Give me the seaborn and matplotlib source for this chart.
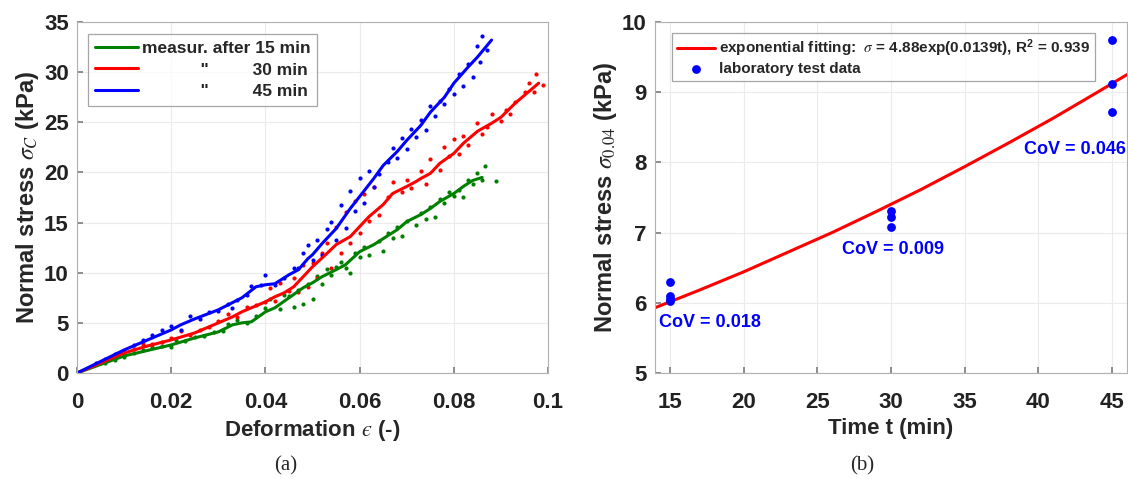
import matplotlib

matplotlib.use("Agg")
import matplotlib.pyplot as plt  # noqa: E402
import seaborn as sns  # noqa: E402

# --------------------------------------------------------------------------- #
# data                                                 #
# --------------------------------------------------------------------------- #
# (a) mean curves (solid lines)
eps_15 = [0, 0.01, 0.02, 0.025, 0.03, 0.033, 0.035, 0.037, 0.04, 0.042, 0.045, 0.048,
          0.05, 0.052, 0.055, 0.057, 0.06, 0.063, 0.065, 0.068, 0.07, 0.073, 0.075,
          0.077, 0.08, 0.082, 0.084, 0.086]
sig_15 = [0, 1.7, 2.8, 3.5, 4.1, 4.8, 5.0, 5.1, 6.1, 6.5, 7.5, 8.5, 9.0, 9.6, 10.3, 10.8,
          12.1, 12.8, 13.4, 14.3, 15.1, 15.8, 16.4, 17.1, 17.9, 18.6, 19.2, 19.5]
eps_30 = [0, 0.01, 0.015, 0.02, 0.025, 0.03, 0.033, 0.035, 0.04, 0.042, 0.044, 0.046,
          0.048, 0.05, 0.053, 0.055, 0.058, 0.06, 0.062, 0.065, 0.067, 0.07, 0.072,
          0.073, 0.075, 0.077, 0.08, 0.082, 0.085, 0.088, 0.09, 0.093, 0.095, 0.098]
sig_30 = [0, 2.0, 2.7, 3.3, 4.0, 5.0, 5.6, 6.1, 7.1, 7.6, 8.0, 8.6, 9.6, 10.6, 11.9, 12.8,
          13.6, 14.6, 15.6, 16.8, 17.9, 18.6, 19.1, 19.4, 19.9, 20.9, 21.9, 22.9, 24.1,
          24.9, 25.5, 26.9, 27.7, 28.9]
eps_45 = [0, 0.01, 0.02, 0.022, 0.025, 0.03, 0.035, 0.038, 0.04, 0.042, 0.045, 0.047,
          0.049, 0.05, 0.052, 0.055, 0.058, 0.06, 0.063, 0.065, 0.068, 0.07, 0.073,
          0.075, 0.078, 0.08, 0.083, 0.085, 0.088]
sig_45 = [0, 2.3, 4.3, 4.8, 5.4, 6.3, 7.5, 8.6, 8.8, 8.9, 9.8, 10.3, 11.4, 11.8, 12.9,
          14.4, 16.4, 17.6, 19.4, 20.7, 22.1, 23.2, 24.7, 26.0, 27.5, 28.9, 30.5, 31.5, 33.2]

# (a) individual measurements (dots)
dot_eps_15 = [0.006, 0.008, 0.010, 0.012, 0.014, 0.016, 0.018, 0.020, 0.021, 0.023, 0.025,
              0.027, 0.029, 0.031, 0.032, 0.034, 0.036, 0.038, 0.040, 0.041, 0.043, 0.044,
              0.045, 0.046, 0.047, 0.048, 0.049, 0.050, 0.051, 0.052, 0.053, 0.054, 0.055,
              0.056, 0.057, 0.058, 0.059, 0.060, 0.061, 0.062, 0.064, 0.065, 0.066, 0.067,
              0.068, 0.069, 0.070, 0.072, 0.073, 0.074, 0.075, 0.076, 0.077, 0.078, 0.079,
              0.080, 0.081, 0.082, 0.083, 0.084, 0.085, 0.086, 0.0865, 0.089]
dot_sig_15 = [1.0, 1.3, 1.6, 2.0, 2.3, 2.6, 2.7, 2.6, 3.3, 3.2, 3.6, 3.7, 4.1, 4.2, 4.9, 5.3,
              5.0, 5.7, 6.5, 7.4, 6.4, 7.8, 7.7, 6.6, 8.3, 6.9, 8.9, 7.4, 9.7, 8.9, 10.4, 9.8,
              10.6, 11.1, 10.5, 10.0, 12.0, 11.6, 12.6, 11.8, 13.2, 12.2, 14.0, 13.5, 14.6,
              13.7, 15.2, 14.8, 16.0, 15.4, 16.6, 15.6, 17.3, 17.0, 18.0, 17.6, 18.2, 17.5,
              19.2, 18.8, 19.9, 19.2, 20.6, 19.1]
dot_eps_30 = [0.006, 0.008, 0.010, 0.012, 0.014, 0.016, 0.018, 0.020, 0.022, 0.024, 0.026,
              0.028, 0.030, 0.032, 0.034, 0.036, 0.038, 0.040, 0.041, 0.042, 0.043, 0.045,
              0.046, 0.047, 0.048, 0.049, 0.050, 0.051, 0.052, 0.053, 0.054, 0.055, 0.056,
              0.057, 0.058, 0.059, 0.060, 0.061, 0.062, 0.063, 0.064, 0.066, 0.067, 0.069,
              0.070, 0.071, 0.073, 0.074, 0.075, 0.077, 0.078, 0.079, 0.080, 0.081, 0.082,
              0.083, 0.085, 0.086, 0.087, 0.088, 0.090, 0.091, 0.092, 0.093, 0.095, 0.096,
              0.097, 0.0975, 0.099]
dot_sig_30 = [1.3, 1.6, 2.0, 2.4, 2.9, 2.9, 3.1, 3.5, 4.2, 3.8, 4.3, 4.6, 5.2, 5.9, 5.6, 6.6,
              6.8, 7.1, 8.5, 7.2, 9.0, 8.2, 9.5, 8.1, 10.8, 8.6, 11.0, 9.5, 12.0, 13.0, 10.5,
              14.6, 12.0, 16.1, 13.0, 17.2, 14.0, 17.8, 15.2, 18.5, 15.8, 17.5, 19.0, 18.0,
              19.2, 18.4, 20.1, 18.8, 21.3, 20.2, 22.5, 21.6, 23.3, 21.8, 23.6, 22.7, 24.9,
              23.8, 24.5, 25.8, 25.1, 26.2, 25.8, 27.0, 28.0, 28.9, 28.0, 29.8, 28.7]
dot_eps_45 = [0.004, 0.006, 0.008, 0.010, 0.012, 0.014, 0.016, 0.018, 0.020, 0.022, 0.024,
              0.026, 0.028, 0.030, 0.032, 0.033, 0.034, 0.036, 0.037, 0.039, 0.040, 0.042,
              0.044, 0.046, 0.047, 0.048, 0.049, 0.050, 0.051, 0.052, 0.053, 0.054, 0.055,
              0.056, 0.057, 0.058, 0.059, 0.060, 0.061, 0.062, 0.063, 0.064, 0.066, 0.067,
              0.068, 0.069, 0.070, 0.071, 0.072, 0.073, 0.074, 0.075, 0.076, 0.077, 0.078,
              0.079, 0.080, 0.081, 0.082, 0.083, 0.084, 0.085, 0.0855, 0.086, 0.087]
dot_sig_45 = [1.0, 1.4, 1.9, 2.2, 2.8, 3.3, 3.8, 4.3, 4.7, 4.3, 5.7, 5.4, 6.1, 6.2, 6.9, 6.5,
              7.3, 7.8, 8.7, 8.8, 9.8, 8.8, 9.5, 10.5, 10.5, 12.0, 12.8, 11.3, 13.3, 11.8,
              14.4, 15.1, 13.3, 16.8, 14.5, 18.1, 16.2, 19.4, 17.0, 20.1, 18.5, 19.8, 21.0,
              22.4, 21.4, 23.4, 22.3, 24.3, 23.5, 25.2, 24.2, 26.6, 25.6, 27.1, 26.8, 28.3,
              27.8, 29.8, 28.6, 30.8, 29.5, 32.6, 31.0, 33.6, 32.2]

# (b) exponential fit and lab data
fit_t = [14, 17, 20, 23, 26, 29, 32, 35, 38, 41, 44, 46]
fit_sig = [5.93, 6.18, 6.44, 6.72, 7.00, 7.30, 7.61, 7.94, 8.28, 8.63, 9.00, 9.25]
lab_t = [15, 15, 15, 15, 30, 30, 30, 45, 45, 45]
lab_sig = [6.29, 6.10, 6.06, 6.02, 7.31, 7.22, 7.08, 9.75, 9.12, 8.72]
cov_labels = ["CoV = 0.018", "CoV = 0.009", "CoV = 0.046"]
cov_pos = [(14.25, 5.72), (26.7, 6.76), (39.05, 8.19)]

GREEN, RED, BLUE = "#008000", "#ff0000", "#0000ff"

sns.set_theme(style="whitegrid")
plt.rcParams["font.family"] = ["Liberation Sans", "DejaVu Sans"]
plt.rcParams["mathtext.fontset"] = "stix"

fig = plt.figure(figsize=(11.28, 4.79), dpi=100)
ax1 = fig.add_axes([0.0683, 0.2213, 0.4176, 0.7328])
ax2 = fig.add_axes([0.5807, 0.2213, 0.4184, 0.7328])


def _style(ax):
    ax.grid(True, color="#ebebeb", lw=0.8)
    for s in ax.spines.values():
        s.set_visible(True)
        s.set_color("#b0b0b0")
        s.set_linewidth(0.8)
    ax.tick_params(axis="both", direction="in", length=4, color="#808080",
                   labelsize=16, pad=6, bottom=True, left=True)
    ax.tick_params(axis="x", pad=14)
    for lab in ax.get_xticklabels() + ax.get_yticklabels():
        lab.set_fontweight("bold")
        lab.set_color("#222222")


# --------------------------------------------------------------------------- #
# (a)                                                                          #
# --------------------------------------------------------------------------- #
series = [(eps_15, sig_15, dot_eps_15, dot_sig_15, GREEN, "measur. after 15 min"),
          (eps_30, sig_30, dot_eps_30, dot_sig_30, RED,
           '            "         30 min'),
          (eps_45, sig_45, dot_eps_45, dot_sig_45, BLUE,
           '            "         45 min')]
for ex, sy, dx, dy, col, lab in series:
    sns.scatterplot(x=dx, y=dy, ax=ax1, color=col, s=9, linewidth=0, legend=False)
for ex, sy, dx, dy, col, lab in series:
    sns.lineplot(x=ex, y=sy, ax=ax1, color=col, lw=2.2, label=lab, estimator=None, sort=False)

ax1.set_xlim(0, 0.1)
ax1.set_ylim(0, 35)
ax1.set_xticks([0, 0.02, 0.04, 0.06, 0.08, 0.1])
ax1.set_xticklabels(["0", "0.02", "0.04", "0.06", "0.08", "0.1"])
ax1.set_yticks(range(0, 36, 5))
ax1.set_xlabel("Deformation $\u03f5$ (-)", fontsize=16, fontweight="bold", labelpad=3)
ax1.set_ylabel(r"Normal stress $\sigma_C$ (kPa)", fontsize=17, fontweight="bold", labelpad=2)
_style(ax1)
leg1 = ax1.legend(loc="upper left", bbox_to_anchor=(0.005, 0.99), fontsize=12.5,
                  frameon=True, fancybox=False, edgecolor="#909090", handlelength=2.5,
                  handletextpad=0.2, borderpad=0.4, labelspacing=0.35)
leg1.get_frame().set_linewidth(0.9)
for t in leg1.get_texts():
    t.set_fontweight("bold")

# --------------------------------------------------------------------------- #
# (b)                                                                          #
# --------------------------------------------------------------------------- #
sns.lineplot(x=fit_t, y=fit_sig, ax=ax2, color=RED, lw=2.2,
             label=r"exponential fitting:  $\sigma$ = 4.88exp(0.0139t), R$^{\mathregular{2}}$ = 0.939")
sns.scatterplot(x=lab_t, y=lab_sig, ax=ax2, color=BLUE, s=40, linewidth=0,
                label="laboratory test data", zorder=5)
for txt, (tx, ty) in zip(cov_labels, cov_pos):
    ax2.text(tx, ty, txt, color=BLUE, fontsize=13, fontweight="bold", va="center", ha="left")

ax2.set_xlim(14, 46)
ax2.set_ylim(5, 10)
ax2.set_xticks(range(15, 46, 5))
ax2.set_yticks(range(5, 11))
ax2.set_xlabel("Time t (min)", fontsize=16, fontweight="bold", labelpad=3)
ax2.set_ylabel(r"Normal stress $\sigma_{0.04}$ (kPa)", fontsize=17, fontweight="bold",
               labelpad=2)
_style(ax2)
leg2 = ax2.legend(loc="upper left", bbox_to_anchor=(0.02, 0.99), fontsize=11,
                  frameon=True, fancybox=False, edgecolor="#909090", handlelength=2.5,
                  handletextpad=0.3, borderpad=0.3, labelspacing=0.2)
leg2.get_frame().set_linewidth(0.9)
for t in leg2.get_texts():
    t.set_fontweight("bold")

fig.text(0.253, 0.027, "(a)", fontsize=15, family="Liberation Serif", ha="center", va="center")
fig.text(0.764, 0.027, "(b)", fontsize=15, family="Liberation Serif", ha="center", va="center")

fig.savefig("out.png", dpi=100)
